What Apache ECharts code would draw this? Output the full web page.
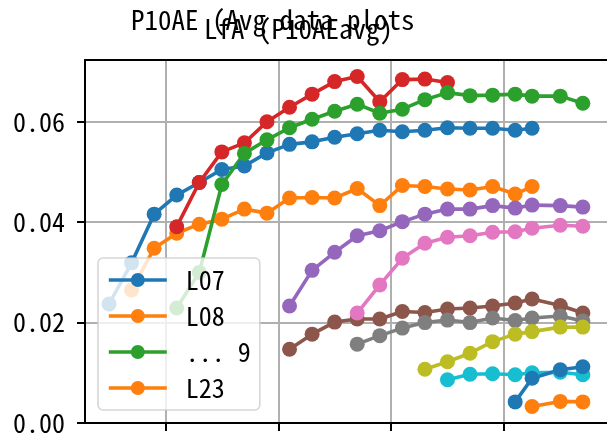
<!DOCTYPE html>
<html>
<head>
<meta charset="utf-8">
<script src="https://cdn.jsdelivr.net/npm/echarts@6/dist/echarts.min.js"></script>
<style>html,body{margin:0;padding:0;background:#fff}#c{width:607px;height:437px}</style>
</head>
<body>
<div id="c"></div>
<script>
// x positions of the samples
const xs = [2.5, 3.5, 4.5, 5.5, 6.5, 7.5, 8.5, 9.5, 10.5, 11.5, 12.5, 13.5, 14.5, 15.5, 16.5, 17.5, 18.5, 19.5, 20.5, 21.25, 22.5, 23.5];
const _ = null;
const L07 = [0.0237, 0.0319, 0.0416, 0.0454, 0.0479, 0.0505, 0.0512, 0.0538, 0.0555, 0.0560, 0.0569, 0.0576, 0.0583, 0.0580, 0.0583, 0.0588, 0.0587, 0.0587, 0.0583, 0.0587, _, _];
const L08 = [_, 0.0265, 0.0348, 0.0378, 0.0396, 0.0406, 0.0426, 0.0418, 0.0448, 0.0449, 0.0448, 0.0467, 0.0433, 0.0473, 0.0471, 0.0466, 0.0464, 0.0471, 0.0456, 0.0471, _, _];
const S09 = [_, _, _, 0.0229, 0.0300, 0.0475, 0.0537, 0.0564, 0.0588, 0.0605, 0.0621, 0.0635, 0.0617, 0.0625, 0.0644, 0.0658, 0.0652, 0.0653, 0.0655, 0.0651, 0.0651, 0.0637];
const S10 = [_, _, _, 0.0391, 0.0479, 0.0540, 0.0558, 0.0600, 0.0629, 0.0655, 0.0680, 0.0690, 0.0640, 0.0684, 0.0685, 0.0678, _, _, _, _, _, _];
const S11 = [_, _, _, _, _, _, _, _, 0.0233, 0.0304, 0.0340, 0.0373, 0.0383, 0.0401, 0.0416, 0.0426, 0.0426, 0.0433, 0.0428, 0.0434, 0.0433, 0.0430];
const S12 = [_, _, _, _, _, _, _, _, 0.0147, 0.0177, 0.0201, 0.0207, 0.0207, 0.0222, 0.0220, 0.0227, 0.0229, 0.0233, 0.0239, 0.0247, 0.0234, 0.0219];
const S13 = [_, _, _, _, _, _, _, _, _, _, _, 0.0219, 0.0275, 0.0328, 0.0358, 0.0370, 0.0373, 0.0380, 0.0381, 0.0388, 0.0394, 0.0392];
const S14 = [_, _, _, _, _, _, _, _, _, _, _, 0.0157, 0.0174, 0.0189, 0.0200, 0.0205, 0.0200, 0.0209, 0.0204, 0.0209, 0.0213, 0.0203];
const S15 = [_, _, _, _, _, _, _, _, _, _, _, _, _, _, 0.0107, 0.0122, 0.0139, 0.0162, 0.0177, 0.0182, 0.0191, 0.0191];
const S16 = [_, _, _, _, _, _, _, _, _, _, _, _, _, _, _, 0.0086, 0.0097, 0.0098, 0.0096, 0.0100, 0.0101, 0.0096];
const S17 = [_, _, _, _, _, _, _, _, _, _, _, _, _, _, _, _, _, _, 0.0042, 0.0089, 0.0106, 0.0112];
const L23 = [_, _, _, _, _, _, _, _, _, _, _, _, _, _, _, _, _, _, _, 0.0033, 0.0043, 0.0042];
const xTicks = [5, 10, 15, 20];
const title1 = 'P10AE (Avg data plots';
const title2 = 'LfA (P10AEavg)';
const legendNames = ['L07', 'L08', '... 9', 'L23'];

const FONT = "'Noto Sans Mono CJK JP', 'Noto Sans CJK JP', 'DejaVu Sans Mono', monospace";
const seriesDefs = [
  ['L07', L07, '#1f77b4'],
  ['L08', L08, '#ff7f0e'],
  ['s10', S10, '#d62728'],
  ['... 9', S09, '#2ca02c'],
  ['s11', S11, '#9467bd'],
  ['s12', S12, '#8c564b'],
  ['s13', S13, '#e377c2'],
  ['s14', S14, '#7f7f7f'],
  ['s15', S15, '#bcbd22'],
  ['s16', S16, '#17becf'],
  ['s17', S17, '#1f77b4'],
  ['L23', L23, '#ff7f0e']
];
const series = seriesDefs.map(([name, vals, color]) => ({
  name, type: 'line',
  data: xs.map((x, i) => [x, vals[i]]),
  symbol: 'circle', symbolSize: 15,
  lineStyle: { color, width: 3.6 },
  itemStyle: { color },
  connectNulls: false,
  animation: false,
  xAxisIndex: 0, yAxisIndex: 0
}));

const chart = echarts.init(document.getElementById('c'), null, { renderer: 'canvas' });
chart.setOption({
  animation: false,
  grid: { left: 85, top: 60, width: 525, height: 363, show: false },
  graphic: [
    { type: 'text', left: 131, top: 6, z: 10, style: { text: title1, font: '27px ' + FONT, fill: '#000' } },
    { type: 'text', left: 204, top: 15, z: 10, style: { text: title2, font: '27px ' + FONT, fill: '#000' } }
  ],
  legend: {
    data: legendNames, orient: 'vertical', left: 98, top: 258,
    itemWidth: 58, itemHeight: 17.5, itemGap: 10,
    padding: [9, 9, 9, 9],
    backgroundColor: 'rgba(255,255,255,0.8)',
    borderColor: 'rgba(204,204,204,0.8)', borderWidth: 1.6, borderRadius: 5,
    lineStyle: { width: 3.6 },
    textStyle: { fontFamily: FONT, fontSize: 26, color: '#000', lineHeight: 25, padding: [0, 0, 0, 14] },
    z: 20
  },
  xAxis: [
    { type: 'value', min: 1.435, max: 24.57, splitNumber: 5, z: 2,
      axisLine: { show: true, lineStyle: { color: '#000', width: 2 } },
      axisTick: { show: true, length: 8, lineStyle: { color: '#000', width: 2 }, customValues: xTicks },
      axisLabel: { show: false },
      splitLine: { show: true, lineStyle: { color: '#b0b0b0', width: 2 } } },
    { type: 'value', min: 1.435, max: 24.57, position: 'top', z: 5,
      axisLine: { show: true, lineStyle: { color: '#000', width: 2 } },
      axisTick: { show: false }, axisLabel: { show: false }, splitLine: { show: false } }
  ],
  yAxis: [
    { type: 'value', min: 0, max: 0.0723, interval: 0.02, z: 1,
      axisLine: { show: true, lineStyle: { color: '#000', width: 2 } },
      axisTick: { show: true, length: 8, lineStyle: { color: '#000', width: 2 } },
      axisLabel: { show: true, margin: 20, color: '#000', showMaxLabel: false,
        fontFamily: FONT, fontSize: 26, formatter: v => v.toFixed(2) },
      splitLine: { show: true, lineStyle: { color: '#b0b0b0', width: 2 } } }
  ],
  series
});
</script>
</body>
</html>
